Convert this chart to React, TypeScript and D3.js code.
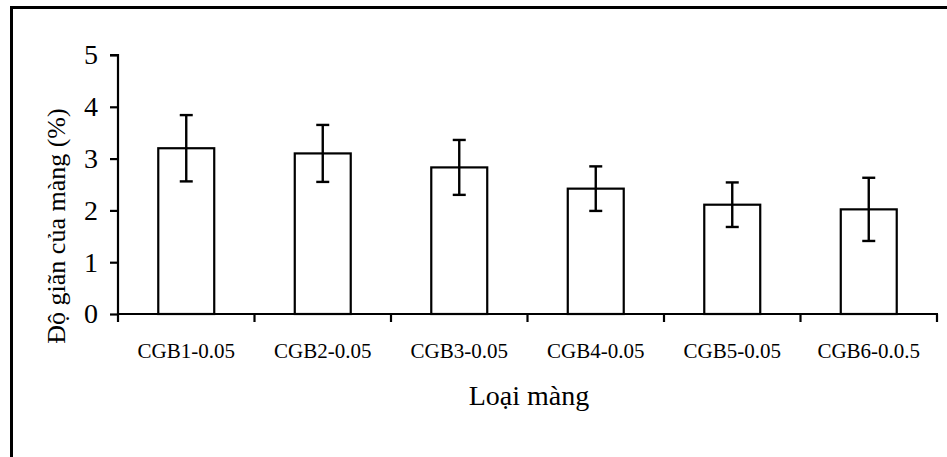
import React, { useEffect, useRef } from 'react';
import * as d3 from 'd3';

const categories = ['CGB1-0.05', 'CGB2-0.05', 'CGB3-0.05', 'CGB4-0.05', 'CGB5-0.05', 'CGB6-0.0.5'];
const values = [3.2, 3.1, 2.83, 2.42, 2.11, 2.02];
const errors = [0.64, 0.55, 0.53, 0.43, 0.43, 0.61];
const yTicks = [0, 1, 2, 3, 4, 5];

const W = 947;
const H = 457;
const FONT = '"Liberation Serif", "Times New Roman", serif';

export default function App() {
  const ref = useRef<SVGSVGElement>(null);

  useEffect(() => {
    const svg = d3.select(ref.current);
    svg.selectAll('*').remove();

    const x = d3.scaleBand<string>().domain(categories).range([118, 937]).padding(0);
    const y = d3.scaleLinear().domain([0, 5]).range([314, 55]);
    const barW = x.bandwidth() * 0.41;

    // frame (only left and top are inside the picture)
    svg.append('rect')
      .attr('x', 11.5).attr('y', 7.5)
      .attr('width', 1200).attr('height', 1200)
      .attr('fill', 'none').attr('stroke', '#000').attr('stroke-width', 3);

    // bars
    svg.append('g').selectAll('rect')
      .data(values)
      .join('rect')
      .attr('x', (d, i) => x(categories[i])! + (x.bandwidth() - barW) / 2)
      .attr('y', d => y(d))
      .attr('width', barW)
      .attr('height', d => y(0) - y(d))
      .attr('fill', '#fff')
      .attr('stroke', '#000')
      .attr('stroke-width', 2.2);

    // error bars
    const eb = svg.append('g').attr('stroke', '#000').attr('stroke-width', 2.4);
    values.forEach((v, i) => {
      const cx = x(categories[i])! + x.bandwidth() / 2;
      const lo = y(v - errors[i]);
      const hi = y(v + errors[i]);
      eb.append('line').attr('x1', cx).attr('x2', cx).attr('y1', lo).attr('y2', hi);
      eb.append('line').attr('x1', cx - 6.5).attr('x2', cx + 6.5).attr('y1', lo).attr('y2', lo);
      eb.append('line').attr('x1', cx - 6.5).attr('x2', cx + 6.5).attr('y1', hi).attr('y2', hi);
    });

    // y axis
    const yAxis = d3.axisLeft(y).tickValues(yTicks).tickSize(8).tickPadding(12).tickFormat(d3.format('d'));
    const gy = svg.append('g').attr('transform', 'translate(118,0)').call(yAxis);
    gy.select('.domain').attr('stroke-width', 2.2).attr('d', `M-8,${y(5)}H0V${y(0)}`);
    gy.selectAll('line').attr('stroke-width', 2.2);
    gy.selectAll('text')
      .attr('font-family', FONT).attr('font-size', 28).attr('fill', '#000');

    // x axis: ticks at category boundaries
    const gx = svg.append('g').attr('stroke', '#000').attr('stroke-width', 2.2);
    gx.append('line').attr('x1', 117).attr('x2', 938).attr('y1', y(0)).attr('y2', y(0));
    const bounds = categories.map(c => x(c)!).concat([x.range()[1]]);
    bounds.forEach(b => {
      gx.append('line').attr('x1', b).attr('x2', b).attr('y1', y(0)).attr('y2', y(0) + 8);
    });

    svg.append('g').selectAll('text')
      .data(categories)
      .join('text')
      .attr('x', d => x(d)! + x.bandwidth() / 2)
      .attr('y', 358)
      .attr('text-anchor', 'middle')
      .attr('font-family', FONT)
      .attr('font-size', 21)
      .text(d => d);

    // titles
    svg.append('text')
      .attr('x', 529).attr('y', 405)
      .attr('text-anchor', 'middle')
      .attr('font-family', FONT).attr('font-size', 28)
      .text('Loại màng');

    svg.append('text')
      .attr('transform', 'translate(65,226) rotate(-90)')
      .attr('text-anchor', 'middle')
      .attr('font-family', FONT).attr('font-size', 26)
      .text('Độ giãn của màng (%)');
  }, []);

  return (
    <svg
      ref={ref}
      width={W}
      height={H}
      style={{ position: 'absolute', left: 0, top: 0, background: '#fff' }}
    />
  );
}
